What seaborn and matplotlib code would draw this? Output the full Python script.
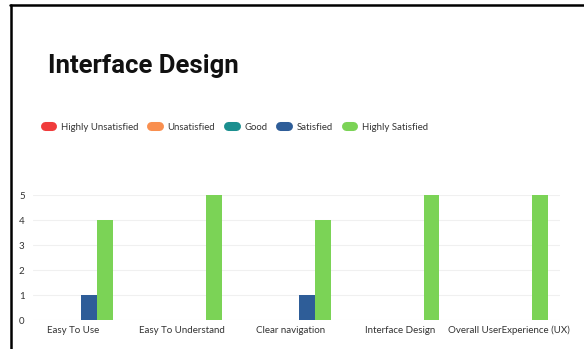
import pandas as pd
import numpy as np
import matplotlib
matplotlib.use('Agg')
import matplotlib.pyplot as plt
import seaborn as sns
from matplotlib.lines import Line2D

# data
categories = ['Easy To Use', 'Easy To Understand', 'Clear navigation',
              'Interface Design', 'Overall UserExperience (UX)']
levels = ['Highly Unsatisfied', 'Unsatisfied', 'Good', 'Satisfied', 'Highly Satisfied']
highly_unsatisfied = [0, 0, 0, 0, 0]
unsatisfied = [0, 0, 0, 0, 0]
good = [0, 0, 0, 0, 0]
satisfied = [1, 0, 1, 0, 0]
highly_satisfied = [4, 5, 4, 5, 5]
colors = ['#f03c3c', '#f98f4f', '#1b8f8f', '#2e5d98', '#7bd356']

series = [highly_unsatisfied, unsatisfied, good, satisfied, highly_satisfied]
rows = []
for lvl, vals in zip(levels, series):
    for cat, v in zip(categories, vals):
        rows.append({'category': cat, 'level': lvl, 'count': v})
df = pd.DataFrame(rows)

sns.set_style('white')
plt.rcParams['font.family'] = ['Lato', 'DejaVu Sans']

fig = plt.figure(figsize=(5.84, 3.49), dpi=100)
ax = fig.add_axes([0.0565, 0.083, 0.902, 0.358])

sns.barplot(data=df, x='category', y='count', hue='level', hue_order=levels,
            palette=colors, width=0.73, gap=0, saturation=1, legend=False,
            edgecolor='none', ax=ax)

ax.set_xlim(-0.37, 4.47)
ax.set_ylim(0, 5)
ax.set_yticks(range(6))
ax.yaxis.grid(True, color='#f0f0f0', linewidth=0.8)
ax.set_axisbelow(True)
for s in ax.spines.values():
    s.set_visible(False)
ax.set_xlabel('')
ax.set_ylabel('')
ax.tick_params(axis='both', length=0, labelsize=7, labelcolor='#333333')
ax.tick_params(axis='y', pad=6)
ax.tick_params(axis='x', pad=4)

fig.text(0.082, 0.79, 'Interface Design', fontsize=18.5, fontweight='bold',
         family=['Roboto', 'DejaVu Sans'], color='#111111', va='baseline')

handles = [Line2D([0], [0], color=c, lw=6.5, solid_capstyle='round') for c in colors]
fig.legend(handles, levels, loc='center left', bbox_to_anchor=(0.062, 0.636),
           ncol=5, frameon=False, fontsize=6.9, handlelength=0.8,
           handletextpad=0.9, columnspacing=1.35, labelcolor='#333333')

# frame lines at top and left
fig.add_artist(Line2D([10 / 584, 1], [0.987, 0.987], color='black', lw=1.8,
                      transform=fig.transFigure))
fig.add_artist(Line2D([11 / 584, 11 / 584], [0, 0.987], color='black', lw=1.8,
                      transform=fig.transFigure))

fig.savefig('out.png', dpi=100)
